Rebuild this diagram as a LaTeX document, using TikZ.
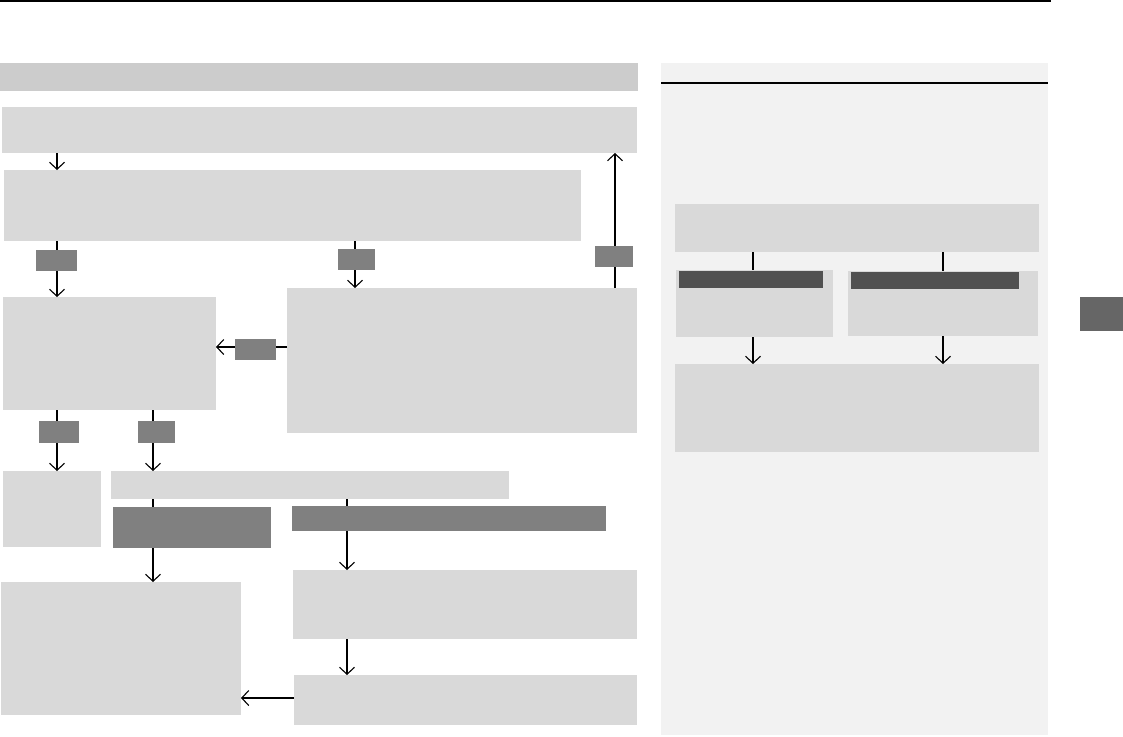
\documentclass[tikz,border=0pt]{standalone}
\usetikzlibrary{arrows.meta}
\definecolor{hdrc}{HTML}{CCCCCC}
\definecolor{boxc}{HTML}{D9D9D9}
\definecolor{labc}{HTML}{808080}
\definecolor{barc}{HTML}{505050}
\definecolor{panc}{HTML}{F2F2F2}
\definecolor{tabc}{HTML}{666666}
\newcommand\mybox[6]{\node[#6, anchor=north west, minimum width={(#4)-(#2)}, minimum height={(#5)-(#3)}] (#1) at (#2,#3) {};}
\begin{document}
\begin{tikzpicture}[x=1pt,y=-1pt,
  base/.style={draw=none, inner sep=0pt, outer sep=0pt, rectangle},
  box/.style={base, fill=boxc},
  hdr/.style={base, fill=hdrc},
  lab/.style={base, fill=labc},
  bar/.style={base, fill=barc},
  pan/.style={base, fill=panc},
  tab/.style={base, fill=tabc},
  arr/.style={draw=black, line width=1.1pt, -{Straight Barb[length=7pt,width=15pt,line width=1.1pt]}},
  conn/.style={draw=black, line width=1.1pt}]
\useasboundingbox (0,0) rectangle (1123,736);
% page furniture
\draw[line width=1.8pt] (0,1) -- (1051,1);
\mybox{H}{0}{63}{638}{91}{hdr}
\mybox{P}{661}{63}{1048}{735}{pan}
\draw[line width=1.2pt] (P.north west |- 0,83) -- (P.north east |- 0,83);
\mybox{T}{1080}{297}{1123}{331}{tab}
% column / row helpers
\coordinate (x57) at (57,0);
\coordinate (x153) at (153,0);
\coordinate (x347) at (347,0);
\coordinate (x355) at (355,0);
\coordinate (x615) at (615,0);
\coordinate (x753) at (753,0);
\coordinate (x943) at (943,0);
\coordinate (y347) at (0,347);
\coordinate (y698) at (0,698);
% main flow boxes
\mybox{A}{2}{107}{637}{153}{box}
\mybox{B}{4}{170}{581}{241}{box}
\mybox{C1}{3}{297}{216}{410}{box}
\mybox{C2}{287}{288}{637}{433}{box}
\mybox{D1}{3}{471}{101}{547}{box}
\mybox{D2}{111}{471}{509}{499}{box}
\mybox{E1}{113}{507}{271}{548}{lab}
\mybox{E2}{292}{506}{606}{531}{lab}
\mybox{F1}{1}{582}{241}{715}{box}
\mybox{F2}{293}{570}{637}{639}{box}
\mybox{F3}{294}{675}{637}{725}{box}
% right panel boxes
\mybox{R1}{675}{204}{1039}{252}{box}
\mybox{R2a}{676}{270}{833}{337}{box}
\mybox{R2b}{848}{271}{1038}{336}{box}
\mybox{R3}{675}{364}{1039}{452}{box}
\mybox{Ba}{679}{271}{823}{288}{bar}
\mybox{Bb}{851}{272}{1019}{289}{bar}
% connectors
\draw[arr] (A.south -| x57) -- (B.north -| x57);
\draw[arr] (B.south -| x57) -- (C1.north -| x57);
\draw[arr] (B.south -| x355) -- (C2.north -| x355);
\draw[arr] (C2.north -| x615) -- (A.south -| x615);
\draw[arr] (C2.west |- y347) -- (C1.east |- y347);
\draw[arr] (C1.south -| x57) -- (D1.north -| x57);
\draw[arr] (C1.south -| x153) -- (D2.north -| x153);
\draw[conn] (D2.south -| x153) -- (E1.north -| x153);
\draw[conn] (D2.south -| x347) -- (E2.north -| x347);
\draw[arr] (E1.south -| x153) -- (F1.north -| x153);
\draw[arr] (E2.south -| x347) -- (F2.north -| x347);
\draw[arr] (F2.south -| x347) -- (F3.north -| x347);
\draw[arr] (F3.west |- y698) -- (F1.east |- y698);
\draw[conn] (R1.south -| x753) -- (R2a.north -| x753);
\draw[conn] (R1.south -| x943) -- (R2b.north -| x943);
\draw[arr] (R2a.south -| x753) -- (R3.north -| x753);
\draw[arr] (R2b.south -| x943) -- (R3.north -| x943);
% connector labels
\mybox{L1}{36}{250}{77}{271}{lab}
\mybox{L2}{338}{249}{375}{270}{lab}
\mybox{L3}{595}{246}{633}{267}{lab}
\mybox{L4}{235}{339}{276}{360}{lab}
\mybox{L5}{39}{421}{79}{443}{lab}
\mybox{L6}{138}{421}{175}{443}{lab}
\end{tikzpicture}
\end{document}
